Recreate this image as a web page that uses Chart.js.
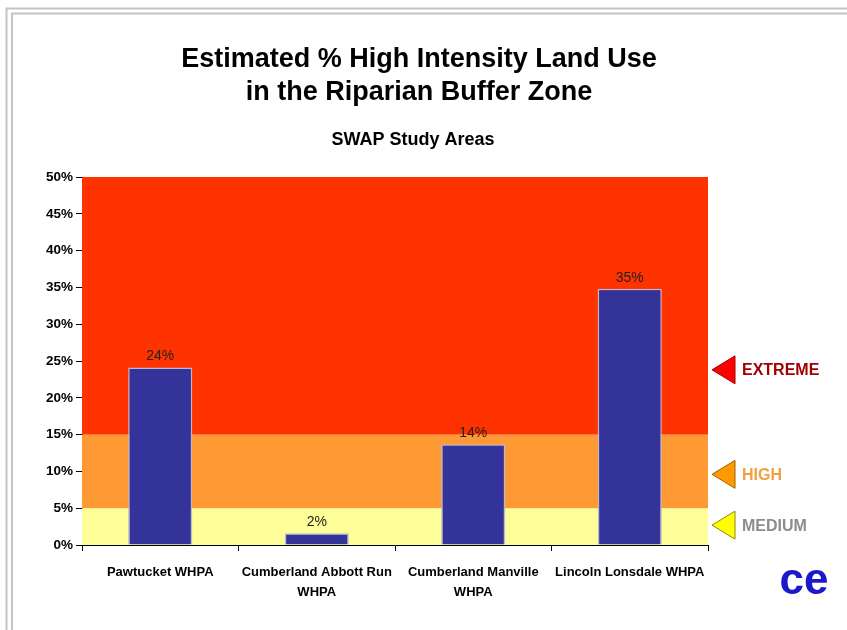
<!DOCTYPE html>
<html>
<head>
<meta charset="utf-8">
<script src="https://cdn.jsdelivr.net/npm/chart.js@4"></script>
<style>
  html, body { margin: 0; padding: 0; background: #fff; }
  #wrap { position: relative; width: 847px; height: 630px; }
</style>
</head>
<body>
<div id="wrap"><canvas id="c" width="847" height="630"></canvas></div>
<script>
// ---- data ----
const categories = ["Pawtucket WHPA", ["Cumberland Abbott Run", "WHPA"], ["Cumberland Manville", "WHPA"], "Lincoln Lonsdale WHPA"];
const values = [24.1, 1.6, 13.7, 34.8];
const yTicks = [0, 5, 10, 15, 20, 25, 30, 35, 40, 45, 50];
const bandFrom = [0, 5, 15];
const bandTo = [5, 15, 50];
const bandNames = ["MEDIUM", "HIGH", "EXTREME"];
const markerAt = [2.7, 9.6, 23.8];
const titleLines = ["Estimated % High Intensity Land Use", "in the Riparian Buffer Zone"];
const subtitle = "SWAP Study Areas";

// ---- styles ----
const bandColors = ["#FFFF99", "#FF9933", "#FF3300"];
const markerFill = ["#FFFF00", "#FF9900", "#FF0000"];
const markerStroke = ["#8A8A00", "#A06000", "#A00000"];
const markerText = ["#8C8C8C", "#F0A040", "#A00000"];
const SANS = "'Liberation Sans', Arial, sans-serif";

const decorPlugin = {
  id: 'decor',
  beforeDraw(chart) {
    const ctx = chart.ctx;
    ctx.save();
    ctx.fillStyle = '#fff';
    ctx.fillRect(0, 0, chart.width, chart.height);
    // frame lines
    ctx.strokeStyle = '#C4C4C4';
    ctx.lineWidth = 2;
    ctx.beginPath();
    ctx.moveTo(6.5, 630); ctx.lineTo(6.5, 8.5); ctx.lineTo(847, 8.5);
    ctx.moveTo(12, 630); ctx.lineTo(12, 13.5); ctx.lineTo(847, 13.5);
    ctx.stroke();
    // titles
    ctx.fillStyle = '#000';
    ctx.textAlign = 'center';
    ctx.textBaseline = 'middle';
    ctx.font = "bold 27px " + SANS;
    ctx.fillText(titleLines[0], 419, 60);
    ctx.fillText(titleLines[1], 419, 93);
    ctx.font = "bold 18px " + SANS;
    ctx.fillText(subtitle, 413, 140);
    ctx.restore();
  },
  beforeDatasetsDraw(chart) {
    const ctx = chart.ctx;
    const y = chart.scales.y;
    const a = chart.chartArea;
    ctx.save();
    for (let i = 0; i < bandFrom.length; i++) {
      const yt = y.getPixelForValue(bandTo[i]);
      const yb = y.getPixelForValue(bandFrom[i]);
      ctx.fillStyle = bandColors[i];
      ctx.fillRect(a.left, yt, a.right - a.left, yb - yt);
    }
    ctx.restore();
  },
  afterDatasetsDraw(chart) {
    const ctx = chart.ctx;
    const y = chart.scales.y;
    const a = chart.chartArea;
    ctx.save();
    // value labels
    const meta = chart.getDatasetMeta(0);
    ctx.fillStyle = '#222';
    ctx.textAlign = 'center';
    ctx.textBaseline = 'bottom';
    ctx.font = "14px " + SANS;
    meta.data.forEach((bar, i) => {
      ctx.fillText(Math.round(values[i]) + '%', bar.x, bar.y - 4);
    });
    // markers
    for (let i = 0; i < markerAt.length; i++) {
      const cy = y.getPixelForValue(markerAt[i]);
      const tipX = a.right + 4;
      const baseX = a.right + 27;
      const h = 14;
      ctx.beginPath();
      ctx.moveTo(tipX, cy);
      ctx.lineTo(baseX, cy - h);
      ctx.lineTo(baseX, cy + h);
      ctx.closePath();
      ctx.fillStyle = markerFill[i];
      ctx.fill();
      ctx.strokeStyle = markerStroke[i];
      ctx.lineWidth = 1;
      ctx.stroke();
      ctx.fillStyle = markerText[i];
      ctx.textAlign = 'left';
      ctx.textBaseline = 'middle';
      ctx.font = "bold 16px " + SANS;
      ctx.fillText(bandNames[i], a.right + 34, cy + 1);
    }
    // logo
    ctx.fillStyle = '#1A1ACC';
    ctx.textAlign = 'center';
    ctx.textBaseline = 'middle';
    ctx.font = "bold 44px " + SANS;
    ctx.fillText('ce', 804, 582);
    ctx.restore();
  }
};

new Chart(document.getElementById('c'), {
  type: 'bar',
  data: {
    labels: categories,
    datasets: [{
      data: values,
      backgroundColor: '#333399',
      borderColor: '#B8B8D8',
      borderWidth: 1.5,
      categoryPercentage: 1,
      barPercentage: 0.41
    }]
  },
  plugins: [decorPlugin],
  options: {
    responsive: false,
    animation: false,
    layout: { padding: { top: 177, right: 139, bottom: 25, left: 40 } },
    plugins: { legend: { display: false }, tooltip: { enabled: false } },
    scales: {
      x: {
        grid: { drawOnChartArea: false, offset: true, tickLength: 6, color: '#000', lineWidth: 1 },
        border: { color: '#000', width: 1 },
        ticks: { color: '#000', font: { family: SANS, size: 13, weight: 'bold', lineHeight: 1.55 }, padding: 11, maxRotation: 0, autoSkip: false },
        afterFit(s) { s.height = 60; }
      },
      y: {
        min: 0, max: 50,
        afterBuildTicks(s) { s.ticks = yTicks.map(v => ({ value: v })); },
        grid: { drawOnChartArea: false, tickLength: 6, color: '#000', lineWidth: 1 },
        border: { color: '#000', width: 1 },
        ticks: { color: '#000', font: { family: SANS, size: 13.5, weight: 'bold' }, padding: 3, callback: v => v + '%' },
        afterFit(s) { s.width = 42; }
      }
    }
  }
});
</script>
</body>
</html>
